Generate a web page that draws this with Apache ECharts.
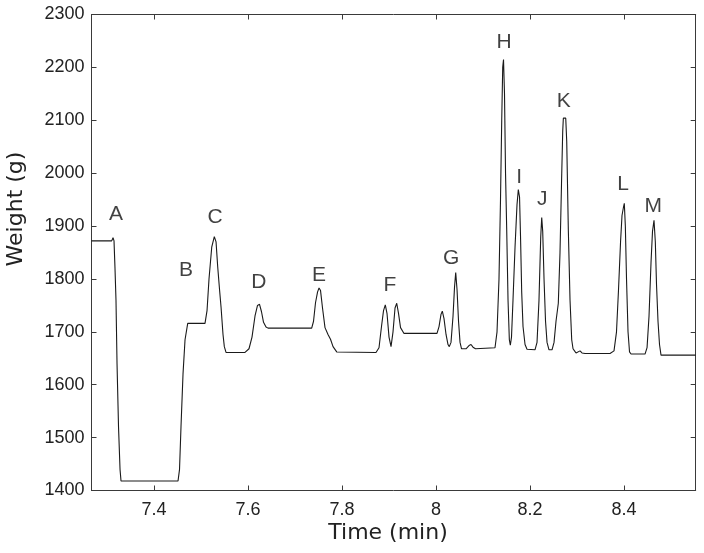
<!DOCTYPE html>
<html>
<head>
<meta charset="utf-8">
<script src="https://cdn.jsdelivr.net/npm/echarts@6/dist/echarts.min.js"></script>
<style>
html,body{margin:0;padding:0;background:#fff;}
#chart{width:704px;height:553px;}
</style>
</head>
<body>
<div id="chart"></div>
<script>
// Time (min)
var times = [
7.267,7.310,7.3128,7.3149,7.317,7.3191,7.3213,7.3245,7.3277,7.3298,
7.4511,7.4543,7.4574,7.4617,7.466,7.4717,7.5085,7.5128,7.517,7.5228,
7.5283,7.532,7.5355,7.5394,7.5426,7.5468,7.5496,7.5532,7.5936,7.6021,
7.6085,7.6149,7.6202,7.6245,7.6287,7.633,7.6383,7.6426,7.7355,7.7394,
7.7436,7.7479,7.7511,7.7543,7.7585,7.7638,7.7702,7.7755,7.7809,7.7887,
7.8723,7.8787,7.884,7.8883,7.8921,7.8957,7.900,7.9043,7.9085,7.9128,
7.9164,7.9202,7.9245,7.9319,8.0021,8.0064,8.0106,8.0134,8.017,8.0213,
8.0255,8.0283,8.0319,8.0362,8.0394,8.0419,8.0447,8.0479,8.0511,8.0543,
8.0638,8.0702,8.0745,8.0787,8.084,8.1255,8.1298,8.134,8.1372,8.1398,
8.1419,8.1436,8.1457,8.1479,8.1504,8.1532,8.156,8.1581,8.1606,8.1638,
8.1681,8.1723,8.1751,8.1777,8.1798,8.1823,8.1851,8.1894,8.1936,8.2106,
8.2149,8.2191,8.2228,8.2249,8.227,8.2298,8.233,8.2362,8.2404,8.2468,
8.2511,8.2553,8.2602,8.2638,8.267,8.2696,8.2709,8.276,8.2781,8.2815,
8.2851,8.2887,8.2915,8.2947,8.2979,8.3021,8.3064,8.3106,8.317,8.3702,
8.3787,8.384,8.3883,8.3926,8.3957,8.3989,8.4006,8.4028,8.4053,8.4085,
8.4117,8.4149,8.4447,8.449,8.4532,8.4574,8.4606,8.4638,8.4666,8.4691,
8.4723,8.4755,8.4787,8.5525
];
// Weight (g)
var weights = [
1872,1872,1878,1872,1820,1760,1640,1520,1440,1418,
1418,1440,1520,1620,1685,1716,1716,1740,1800,1860,
1880,1870,1823,1780,1747,1695,1672,1661,1661,1668,
1690,1730,1750,1752,1738,1718,1709,1707,1707,1720,
1755,1775,1783,1778,1745,1708,1695,1686,1672,1662,
1661,1670,1710,1740,1751,1735,1690,1672,1700,1745,
1754,1735,1708,1697,1697,1710,1733,1739,1725,1695,
1676,1672,1680,1730,1785,1812,1780,1720,1680,1668,
1668,1674,1676,1671,1668,1670,1700,1800,1950,2100,
2200,2215,2150,2000,1893,1760,1685,1675,1690,1760,
1860,1940,1969,1955,1880,1775,1710,1676,1667,1666,
1680,1760,1880,1916,1890,1800,1720,1680,1666,1666,
1680,1720,1754,1850,1980,2080,2104,2104,2060,1893,
1760,1685,1668,1664,1660,1660,1664,1660,1659,1659,
1664,1700,1780,1870,1920,1936,1943,1900,1800,1700,
1662,1658,1658,1670,1730,1830,1890,1911,1870,1790,
1720,1676,1656,1656
];
// Peak annotations
var peakNames = ['A','B','C','D','E','F','G','H','I','J','K','L','M'];
var peakTimes = [7.319,7.468,7.530,7.623,7.751,7.902,8.032,8.145,8.177,8.226,8.272,8.398,8.462];
var peakLabelWeights = [1923,1817,1917,1794,1807,1789,1840,2248,1993,1951,2136,1979,1938];
// Axis ticks
var xTicks = [7.4,7.6,7.8,8,8.2,8.4];
var xMin = 7.267, xMax = 8.5525;
var yMin = 1400, yMax = 2300, yStep = 100;

var lineData = times.map(function(t,i){return [t, weights[i]];});
var labelData = peakNames.map(function(n,i){return {value:[peakTimes[i], peakLabelWeights[i]], name:n};});

var axisColor = '#3a3a3a';
var tickFont = '"Liberation Sans", Arial, sans-serif';
var chart = echarts.init(document.getElementById('chart'));
chart.setOption({
  backgroundColor:'#ffffff',
  animation:false,
  grid:{left:91.5, right:8.3, top:14.5, bottom:62.5, containLabel:false},
  xAxis:[{
    type:'value', min:xMin, max:xMax, position:'bottom',
    axisLine:{show:true, onZero:false, lineStyle:{color:axisColor, width:1}},
    axisTick:{show:true, inside:true, length:5, customValues:xTicks, lineStyle:{color:axisColor}},
    axisLabel:{show:true, customValues:xTicks, color:'#222', fontSize:18, fontFamily:tickFont, margin:11,
      formatter:function(v){return String(Math.round(v*10)/10);}},
    splitLine:{show:false}
  },{
    type:'value', min:xMin, max:xMax, position:'top',
    axisLine:{show:true, onZero:false, lineStyle:{color:axisColor, width:1}},
    axisTick:{show:true, inside:true, length:5, customValues:xTicks, lineStyle:{color:axisColor}},
    axisLabel:{show:false},
    splitLine:{show:false}
  }],
  yAxis:[{
    type:'value', min:yMin, max:yMax, interval:yStep, position:'left',
    axisLine:{show:true, onZero:false, lineStyle:{color:axisColor, width:1}},
    axisTick:{show:true, inside:true, length:5, lineStyle:{color:axisColor}},
    axisLabel:{show:true, color:'#222', fontSize:18, fontFamily:tickFont, margin:7,
      formatter:function(v){return String(v);}},
    splitLine:{show:false}
  },{
    type:'value', min:yMin, max:yMax, interval:yStep, position:'right',
    axisLine:{show:true, onZero:false, lineStyle:{color:axisColor, width:1}},
    axisTick:{show:true, inside:true, length:5, lineStyle:{color:axisColor}},
    axisLabel:{show:false},
    splitLine:{show:false}
  }],
  graphic:[
    {type:'text', x:388, y:533, style:{text:'Time (min)', fill:'#222', font:'22px "DejaVu Sans"', textAlign:'center', textVerticalAlign:'middle'}},
    {type:'text', x:16, y:209, rotation:Math.PI/2, style:{text:'Weight (g)', fill:'#222', font:'22px "DejaVu Sans"', textAlign:'center', textVerticalAlign:'middle'}}
  ],
  series:[{
    type:'line', xAxisIndex:0, yAxisIndex:0, data:lineData,
    showSymbol:false, symbol:'none', smooth:false,
    lineStyle:{color:'#1a1a1a', width:1.1},
    silent:true
  },{
    type:'scatter', xAxisIndex:0, yAxisIndex:0, data:labelData,
    symbolSize:1, itemStyle:{color:'rgba(0,0,0,0)'},
    label:{show:true, position:'inside', formatter:'{b}', color:'#111', fontSize:21, fontFamily:tickFont},
    silent:true
  }]
});
</script>
</body>
</html>
